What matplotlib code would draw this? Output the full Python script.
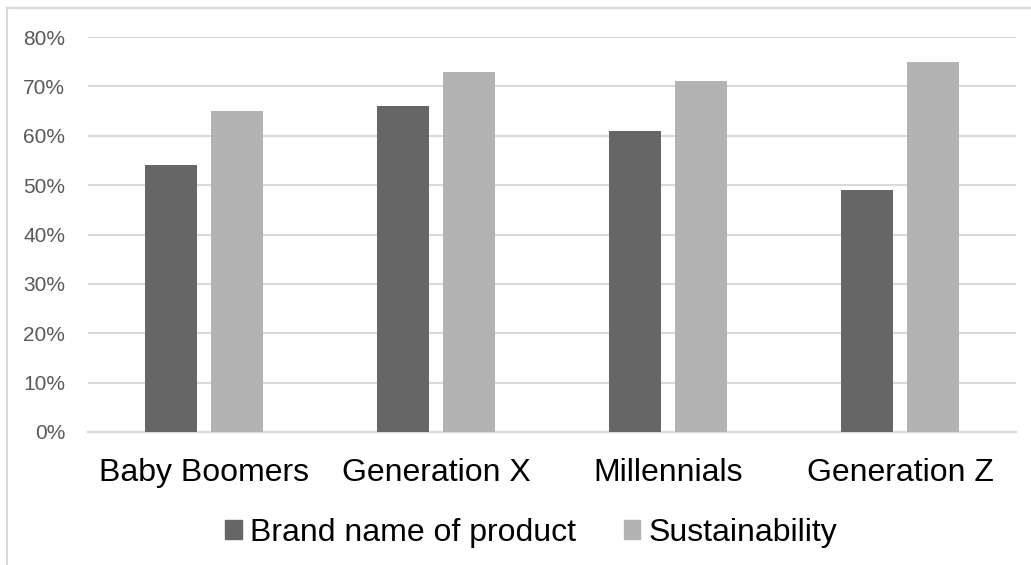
import numpy as np
import matplotlib.pyplot as plt
from matplotlib.lines import Line2D
from matplotlib.ticker import PercentFormatter

plt.rcParams['font.family'] = ['Liberation Sans', 'DejaVu Sans']

# data
categories = ['Baby Boomers', 'Generation X', 'Millennials', 'Generation Z']
brand = [54, 66, 61, 49]
sustainability = [65, 73, 71, 75]
series_names = ['Brand name of product', 'Sustainability']

dark = '#666666'
light = '#b3b3b3'
grid = '#d9d9d9'

fig = plt.figure(figsize=(10.31, 5.65), dpi=100)
ax = fig.add_axes([0.0854, 0.2354, 0.9001, 0.6991])

x = np.arange(len(categories))
w = 0.224
off = 0.142
ax.bar(x - off, np.array(brand) / 100, w, color=dark, label=series_names[0], zorder=3)
ax.bar(x + off, np.array(sustainability) / 100, w, color=light, label=series_names[1], zorder=3)

ax.set_xlim(-0.5, len(categories) - 0.5)
ax.set_ylim(0, 0.8)
ax.set_yticks(np.arange(0, 0.81, 0.1))
ax.yaxis.set_major_formatter(PercentFormatter(1.0, decimals=0))
ax.grid(axis='y', color=grid, linewidth=1.5, zorder=0)

ax.set_xticks(x)
ax.set_xticklabels(categories, fontsize=23, color='black')
ax.tick_params(axis='x', length=0, pad=18.5)
ax.tick_params(axis='y', length=0, pad=16.5, labelsize=15, labelcolor='#595959')

for s in ['top', 'right', 'left']:
    ax.spines[s].set_visible(False)
ax.spines['bottom'].set_color(grid)
ax.spines['bottom'].set_linewidth(1.5)

handles = [plt.Rectangle((0, 0), 1, 1, color=dark), plt.Rectangle((0, 0), 1, 1, color=light)]
fig.legend(handles, series_names, loc='center', bbox_to_anchor=(0.515, 0.057), ncol=2,
           frameon=False, fontsize=23, handlelength=0.53, handleheight=0.53,
           handletextpad=0.25, columnspacing=1.5)

# chart border (left and top visible)
fig.add_artist(Line2D([7 / 1031, 7 / 1031], [0, 1 - 8 / 565], color=grid, linewidth=1.5))
fig.add_artist(Line2D([7 / 1031, 1], [1 - 8 / 565, 1 - 8 / 565], color=grid, linewidth=1.5))

fig.savefig('out.png', dpi=100)
